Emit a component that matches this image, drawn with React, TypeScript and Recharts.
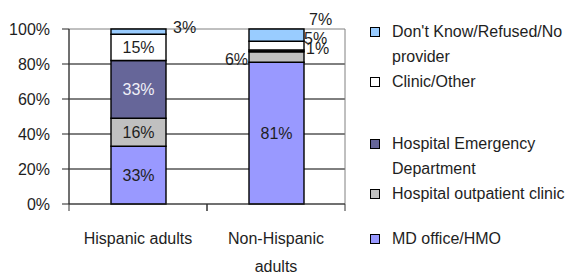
import React from "react";
import {
  BarChart,
  Bar,
  XAxis,
  YAxis,
  CartesianGrid,
  ReferenceArea,
  LabelList,
  Text,
} from "recharts";

// Values (percent of adults)
const CATEGORIES = ["Hispanic adults", "Non-Hispanic adults"];
const MD_OFFICE = [33, 81];
const OUTPATIENT = [16, 6];
const EMERGENCY = [33, 1];
const CLINIC = [15, 5];
const DONT_KNOW = [3, 7];
const Y_TICKS = [0, 20, 40, 60, 80, 100];

const FONT = "'Liberation Sans', Arial, sans-serif";
const INK = "#1e1e1e";

// bottom-to-top stacking order
const SERIES = [
  { key: "md", name: "MD office/HMO", values: MD_OFFICE, color: "#9999ff" },
  { key: "outpatient", name: "Hospital outpatient clinic", values: OUTPATIENT, color: "#c0c0c0" },
  { key: "er", name: "Hospital Emergency Department", values: EMERGENCY, color: "#666699" },
  { key: "clinic", name: "Clinic/Other", values: CLINIC, color: "#ffffff" },
  { key: "dk", name: "Don't Know/Refused/No provider", values: DONT_KNOW, color: "#99ccff" },
];

const data = CATEGORIES.map((category, i) => {
  const row: Record<string, string | number> = { category };
  SERIES.forEach((s) => (row[s.key] = s.values[i]));
  return row;
});

// where excel put each label (per series, per category)
type Spot = { mode: "inside" | "right" | "left" | "above"; dx?: number; dy?: number };
const LABEL_SPOTS: Record<string, Spot[]> = {
  md: [{ mode: "inside" }, { mode: "inside" }],
  outpatient: [{ mode: "inside" }, { mode: "left", dx: -1, dy: 2 }],
  er: [{ mode: "inside" }, { mode: "right", dx: 2, dy: -2.5 }],
  clinic: [{ mode: "inside" }, { mode: "right", dx: 0, dy: -7 }],
  dk: [{ mode: "right", dx: 7, dy: -4.5 }, { mode: "above", dx: 5, dy: -10 }],
};

const LEGEND_GAPS: Record<string, number> = { dk: 19, clinic: 0, er: 36.5, outpatient: 0, md: 20 };

function makeLabel(key: string, textColor: string) {
  return (props: any) => {
    const { x, y, width, height, value, index } = props;
    const spot = LABEL_SPOTS[key][index] || { mode: "inside" };
    const dx = spot.dx || 0;
    const dy = spot.dy || 0;
    let tx = x + width / 2;
    let ty = y + height / 2;
    let anchor: "middle" | "start" | "end" = "middle";
    if (spot.mode === "right") {
      tx = x + width + dx;
      ty = y + height / 2 + dy;
      anchor = "start";
    } else if (spot.mode === "left") {
      tx = x + dx;
      ty = y + height / 2 + dy;
      anchor = "end";
    } else if (spot.mode === "above") {
      tx = x + width + dx;
      ty = y + dy;
      anchor = "start";
    }
    return (
      <text
        x={tx}
        y={ty}
        dy="0.36em"
        textAnchor={anchor}
        fontSize={16}
        fontFamily={FONT}
        fill={spot.mode === "inside" ? textColor : INK}
      >
        {`${value}%`}
      </text>
    );
  };
}

function CategoryTick(props: any) {
  const { x, y, payload } = props;
  const half = payload.offset || 69;
  return (
    <g>
      <line x1={x - half} x2={x - half} y1={y} y2={y + 7} stroke="#333" />
      <line x1={x + half} x2={x + half} y1={y} y2={y + 7} stroke="#333" />
      <Text
        x={x}
        y={y + 28.5}
        width={125}
        textAnchor="middle"
        verticalAnchor="start"
        lineHeight={28}
        fontSize={16}
        fontFamily={FONT}
        fill={INK}
      >
        {payload.value}
      </Text>
    </g>
  );
}

function Legend() {
  return (
    <div style={{ position: "absolute", left: 370, top: 0, width: 200, fontFamily: FONT, fontSize: 16, lineHeight: "25px", color: INK }}>
      {[...SERIES].reverse().map((s) => (
        <div key={s.key} style={{ display: "flex", marginTop: LEGEND_GAPS[s.key] }}>
          <div
            style={{
              width: 8,
              height: 8,
              marginTop: 8,
              marginRight: 12,
              background: s.color,
              border: "1px solid #000",
              flexShrink: 0,
            }}
          />
          <div style={{ width: 178 }}>{s.name}</div>
        </div>
      ))}
    </div>
  );
}

export default function App() {
  return (
    <div style={{ position: "absolute", left: 0, top: 0, width: 570, height: 274, overflow: "hidden", background: "#fff" }}>
      <BarChart
        width={570}
        height={274}
        data={data}
        margin={{ top: 29, right: 225, bottom: 0, left: 0 }}
        barSize={55}
      >
        <CartesianGrid vertical={false} stroke="#000" horizontalValues={[20, 40, 60, 80]} />
        <ReferenceArea y1={0} y2={100} fill="none" stroke="#808080" strokeWidth={1} />
        <XAxis
          dataKey="category"
          height={70}
          tickLine={false}
          tickSize={0}
          tickMargin={0}
          axisLine={{ stroke: "#222" }}
          tick={<CategoryTick />}
          interval={0}
        />
        <YAxis
          width={69}
          domain={[0, 100]}
          ticks={Y_TICKS}
          tickFormatter={(v) => `${v}%`}
          tickSize={7}
          tickMargin={12}
          axisLine={{ stroke: "#222" }}
          tickLine={{ stroke: "#222" }}
          tick={{ fontSize: 16, fontFamily: FONT, fill: INK }}
        />
        {SERIES.map((s) => (
          <Bar
            key={s.key}
            dataKey={s.key}
            name={s.name}
            stackId="a"
            fill={s.color}
            stroke="#000"
            strokeWidth={1.4}
            isAnimationActive={false}
          >
            <LabelList dataKey={s.key} content={makeLabel(s.key, s.key === "er" ? "#f0f0f8" : INK)} />
          </Bar>
        ))}
      </BarChart>
      <Legend />
    </div>
  );
}
